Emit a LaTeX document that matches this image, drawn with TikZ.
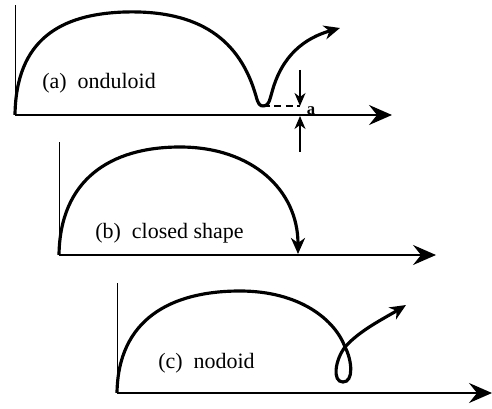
\documentclass[tikz,border=0pt]{standalone}
\usepackage{fontspec}
\setmainfont{Liberation Serif}
\usetikzlibrary{arrows.meta}

\begin{document}
\begin{tikzpicture}[
  x=0.02cm, y=-0.02cm,
  xaxis/.style={line width=1.3pt, -{Stealth[length=4.6mm, width=4mm, inset=1.6mm]}},
  yaxis/.style={line width=0.5pt},
  curve/.style={line width=1.8pt},
  curvearr/.style={curve, -{Stealth[length=3.2mm, width=2.8mm, inset=1mm]}},
  gaparr/.style={line width=0.8pt, -{Stealth[length=2.6mm, width=2.2mm, inset=0.8mm]}},
  lab/.style={font=\fontsize{12.5}{14}\selectfont, inner sep=0pt, anchor=west}]
\useasboundingbox (0,0) rectangle (492,408);

% (a) onduloid
\coordinate (aO) at (15,115);
\coordinate (aY) at (15,5);
\coordinate (aX) at (392,115);
\coordinate (aLow) at (263,106);
\coordinate (aTip) at (340,28);
\coordinate (aGap) at (300,106);
\coordinate (aHi) at (300,70);
\coordinate (aAx) at (300,116);
\coordinate (aLo) at (300,152);
\draw[yaxis] (aO) -- (aY);
\draw[xaxis] (aO) -- (aX);
\draw[curve] (aO) .. controls (16,40) and (60,14) .. (125,12)
  .. controls (200,10) and (240,40) .. (256,96)
  .. controls (258,104) and (260,106) .. (aLow);
\draw[curvearr] (aLow) .. controls (268,106) and (269,103) .. (272,92)
  .. controls (282,55) and (305,38) .. (aTip);
\draw[dashed, line width=0.8pt, dash pattern=on 4pt off 2.5pt] (aLow) -- (aGap);
\draw[gaparr] (aHi) -- (aGap);
\draw[gaparr] (aLo) -- (aAx);
\node[font=\fontsize{9.5}{10}\selectfont\bfseries, inner sep=0pt] (alab) at (311,111) {a};
\node[lab] (la) at (42,83) {(a)~~onduloid};

% (b) closed shape
\coordinate (bO) at (59,255);
\coordinate (bY) at (59,142);
\coordinate (bX) at (436,255);
\coordinate (bEnd) at (298,254);
\draw[yaxis] (bO) -- (bY);
\draw[xaxis] (bO) -- (bX);
\draw[curvearr] (bO) .. controls (60,180) and (110,147) .. (180,147)
  .. controls (252,147) and (298,190) .. (bEnd);
\node[lab] (lb) at (95,233) {(b)~~closed shape};

% (c) nodoid
\coordinate (cO) at (117,393);
\coordinate (cY) at (117,283);
\coordinate (cX) at (492,393);
\coordinate (cKnot) at (345,347);
\coordinate (cTip) at (406,305);
\draw[yaxis] (cO) -- (cY);
\draw[xaxis] (cO) -- (cX);
\draw[curve] (cO) .. controls (118,320) and (170,291) .. (240,291)
  .. controls (300,291) and (335,320) .. (cKnot)
  .. controls (352,360) and (354,382) .. (343,382)
  .. controls (332,382) and (335,360) .. (cKnot);
\draw[curvearr] (cKnot) .. controls (360,330) and (385,318) .. (cTip);
\node[lab] (lc) at (158,363) {(c)~~nodoid};
\end{tikzpicture}
\end{document}
